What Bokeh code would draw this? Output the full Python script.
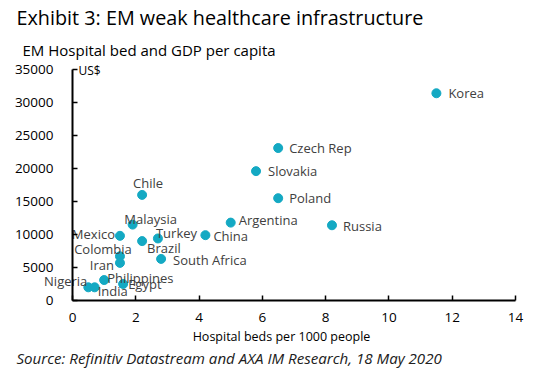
from bokeh.plotting import figure
from bokeh.models import ColumnDataSource, Range1d, FixedTicker, Label
from bokeh.core.properties import value
from bokeh.embed import file_html
from bokeh.resources import INLINE

# ---- data ----
countries = ["Korea", "Czech Rep", "Slovakia", "Poland", "Argentina", "Russia", "China",
             "Chile", "Malaysia", "Mexico", "Turkey", "Brazil", "Colombia", "Iran",
             "South Africa", "Philippines", "Egypt", "Nigeria", "India"]
beds = [11.5, 6.5, 5.8, 6.5, 5.0, 8.2, 4.2,
        2.2, 1.9, 1.5, 2.7, 2.2, 1.5, 1.5,
        2.8, 1.0, 1.6, 0.5, 0.7]
gdp = [31400, 23100, 19600, 15500, 11800, 11400, 9900,
       16000, 11500, 9800, 9400, 9000, 6700, 5700,
       6300, 3100, 2500, 2000, 2000]
x_ticks = [0, 2, 4, 6, 8, 10, 12, 14]
y_ticks = [0, 5000, 10000, 15000, 20000, 25000, 30000, 35000]

# label placement styles (screen px offsets, y down)
label_align = ["left", "left", "left", "left", "left", "left", "left",
               "center", "center", "right", "left", "left", "center", "right",
               "left", "left", "left", "right", "left"]
label_dx = [12, 11, 12, 11, 8, 11, 8,
            6, 18, -5, -2, 5, -17, -6,
            12, 3, 5, -1, 3]
label_dy = [0, 0, 0, 0, -3, 1, 1,
            -12, -6, -2, -5, 7, -7, 2,
            1, -2, 0, -6, 4]

FONT = "Open Sans"
DOT = "#14A9C3"
TXT = "#404040"

W, H = 548, 380
X0PX, X14PX = 72, 515      # pixel positions of x=0 and x=14
Y0PX, YTOPPX = 300, 69     # pixel positions of y=0 and y=35000
sx = (X14PX - X0PX) / 14.0
sy = (Y0PX - YTOPPX) / 35000.0

def px2x(px):
    return (px - X0PX) / sx

def py2y(py):
    return (Y0PX - py) / sy

src = ColumnDataSource(dict(x=beds, y=gdp, name=countries, align=label_align,
                            dx=label_dx, dy=label_dy))

p = figure(width=W, height=H, output_backend="svg", toolbar_location=None,
           x_range=Range1d(px2x(0), px2x(W)), y_range=Range1d(py2y(H), py2y(0)),
           min_border=0)
p.outline_line_color = None
p.grid.visible = False
p.background_fill_color = "white"
p.border_fill_color = "white"

for ax in (p.xaxis[0], p.yaxis[0]):
    ax.fixed_location = 0
    ax.axis_line_color = "black"
    ax.axis_line_width = 2
    ax.major_tick_line_color = "black"
    ax.major_tick_line_width = 1.5
    ax.major_tick_in = 5
    ax.major_tick_out = 0
    ax.minor_tick_line_color = None
    ax.major_label_text_font = FONT
    ax.major_label_text_font_size = "13.5px"
    ax.major_label_text_color = "black"

p.xaxis.ticker = FixedTicker(ticks=x_ticks)
p.yaxis.ticker = FixedTicker(ticks=y_ticks)
p.xaxis.bounds = (x_ticks[0], x_ticks[-1])
p.yaxis.bounds = (y_ticks[0], y_ticks[-1])
p.xaxis.major_label_standoff = 12
p.yaxis.major_label_standoff = 19

p.scatter("x", "y", source=src, size=9, fill_color=DOT, line_color=DOT)
p.text("x", "y", text="name", source=src, x_offset="dx", y_offset="dy",
       text_align="align", text_baseline="middle",
       text_font=value(FONT), text_font_size="13px", text_color=TXT)

p.add_layout(Label(x=px2x(16), y=py2y(17), text="Exhibit 3: EM weak healthcare infrastructure",
                   text_font=FONT, text_font_size="19.8px", text_color="black",
                   text_baseline="middle", text_align="left"))
p.add_layout(Label(x=px2x(22), y=py2y(49), text="EM Hospital bed and GDP per capita",
                   text_font=FONT, text_font_size="15px", text_color="black",
                   text_baseline="middle", text_align="left"))
p.add_layout(Label(x=px2x(78), y=py2y(70), text="US$",
                   text_font=FONT, text_font_size="12px", text_color="black",
                   text_baseline="middle", text_align="left"))
p.add_layout(Label(x=px2x(281), y=py2y(336), text="Hospital beds per 1000 people",
                   text_font=FONT, text_font_size="12.5px", text_color="black",
                   text_baseline="middle", text_align="center"))
p.add_layout(Label(x=px2x(16), y=py2y(357), text="Source: Refinitiv Datastream and AXA IM Research, 18 May 2020",
                   text_font=FONT, text_font_size="15.1px", text_font_style="italic",
                   text_color="#202020", text_baseline="middle", text_align="left"))

open("out.html", "w").write(file_html(p, INLINE))
